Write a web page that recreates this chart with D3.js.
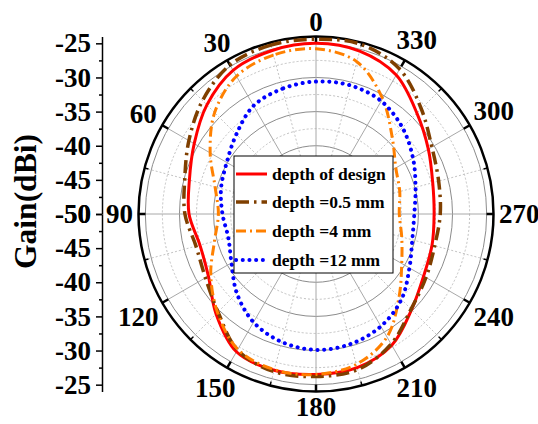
<!DOCTYPE html>
<html>
<head>
<meta charset="utf-8">
<script src="https://cdn.jsdelivr.net/npm/d3@7"></script>
<style>
  body { margin: 0; background: #fff; }
  text { font-family: "Liberation Serif", "Times New Roman", serif; font-weight: bold; fill: #000; }
</style>
</head>
<body>
<svg id="chart" width="538" height="424"></svg>
<script>
// Azimuth angles (degrees, counter-clockwise from top)
const angles = [0, 15, 30, 45, 60, 75, 90, 105, 120, 135, 150, 165,
                180, 195, 210, 225, 240, 255, 270, 285, 300, 315, 330, 345];

// Gain (dBi) for each depth
const gainDesign = [-25.0, -25.2, -25.7, -27.4, -29.4, -30.8, -31.4, -32.4, -31.8, -29.3, -26.7, -26.3,
                    -26.5, -26.7, -27.8, -30.2, -31.8, -32.4, -32.7, -32.3, -31.0, -29.1, -26.5, -25.3];
const gain05 = [-24.4, -24.4, -24.8, -26.5, -28.5, -30.1, -30.8, -31.8, -31.3, -29.7, -27.0, -26.1,
                -26.2, -26.4, -28.0, -30.3, -31.4, -32.0, -31.8, -31.4, -30.4, -28.2, -25.5, -24.3];
const gain4 = [-25.8, -25.9, -26.7, -29.0, -32.1, -34.7, -35.7, -34.6, -32.2, -29.6, -27.1, -26.4,
               -26.5, -27.2, -29.2, -32.8, -35.5, -37.0, -37.8, -37.3, -36.5, -34.2, -30.5, -26.9];
const gain12 = [-30.6, -31.0, -31.7, -33.5, -34.9, -35.6, -36.3, -36.7, -35.7, -33.6, -31.7, -30.6,
                -30.1, -30.3, -31.0, -32.3, -34.2, -35.4, -35.6, -34.9, -33.6, -32.1, -30.9, -30.5];

const seriesNames = ["depth of design", "depth =0.5 mm", "depth =4 mm", "depth =12 mm"];
const angleLabels = [0, 30, 60, 90, 120, 150, 180, 210, 240, 270, 300, 330];
const gainTicks = [-25, -30, -35, -40, -45, -50];
const gainMinorTicks = [-27.5, -32.5, -37.5, -42.5, -47.5];
const gainMin = -50, gainMax = -24;

const series = [
  { name: seriesNames[0], values: gainDesign, color: "#ff0000", width: 3,   dash: null,          cap: "butt" },
  { name: seriesNames[1], values: gain05,     color: "#7f3f00", width: 3.5, dash: "13,5,2.5,5",  cap: "butt" },
  { name: seriesNames[2], values: gain4,      color: "#ff8000", width: 3,   dash: "10,4,2,4",    cap: "butt" },
  { name: seriesNames[3], values: gain12,     color: "#0000ff", width: 4,   dash: "0.1,6.6",     cap: "round" }
];

const svg = d3.select("#chart");
const cx = 316, cy = 214, R = 177.5;
const rScale = d3.scaleLinear().domain([gainMin, gainMax]).range([0, R]);
const rad = a => a * Math.PI / 180;

const plot = svg.append("g").attr("transform", `translate(${cx},${cy})`);

// Concentric grid rings
const rings = d3.range(gainMin + 2.5, -24.9, 2.5);
plot.selectAll("circle.ring").data(rings).join("circle")
  .attr("class", "ring")
  .attr("r", d => rScale(d))
  .attr("fill", "none")
  .attr("stroke", d => (d % 5 === 0) ? "#8c8c8c" : "#c0c0c0")
  .attr("stroke-width", 1)
  .attr("stroke-dasharray", d => (d % 5 === 0) ? null : "2,2");

// Radial spokes
plot.selectAll("line.spoke").data(d3.range(0, 360, 15)).join("line")
  .attr("class", "spoke")
  .attr("x1", 0).attr("y1", 0)
  .attr("x2", a => -R * Math.sin(rad(a)))
  .attr("y2", a => -R * Math.cos(rad(a)))
  .attr("stroke", a => (a % 30 === 0) ? "#a8a8a8" : "#c4c4c4")
  .attr("stroke-width", 1)
  .attr("stroke-dasharray", a => (a % 30 === 0) ? null : "2,2");

// Outer axis circle with angular ticks
plot.append("circle").attr("r", R).attr("fill", "none")
  .attr("stroke", "#000").attr("stroke-width", 2.5);
plot.selectAll("line.atick").data(d3.range(0, 360, 15)).join("line")
  .attr("class", "atick")
  .attr("x1", a => -R * Math.sin(rad(a)))
  .attr("y1", a => -R * Math.cos(rad(a)))
  .attr("x2", a => -(R - ((a % 30 === 0) ? 7 : 4)) * Math.sin(rad(a)))
  .attr("y2", a => -(R - ((a % 30 === 0) ? 7 : 4)) * Math.cos(rad(a)))
  .attr("stroke", "#000")
  .attr("stroke-width", a => (a % 30 === 0) ? 2.5 : 1.5);

// Angle labels: each label box sits just outside the axis circle
const labelGap = 183, digitHeight = 19;
plot.selectAll("text.alabel").data(angleLabels).join("text")
  .attr("class", "alabel")
  .attr("text-anchor", "middle")
  .attr("dominant-baseline", "central")
  .style("font-size", "27px")
  .text(a => a)
  .each(function (a) {
    const w = this.getComputedTextLength();
    const ux = -Math.sin(rad(a)), uy = -Math.cos(rad(a));
    const d = labelGap + Math.abs(ux) * w / 2 + Math.abs(uy) * digitHeight / 2;
    d3.select(this).attr("x", ux * d).attr("y", uy * d);
  });

// Pattern traces
const radial = d3.lineRadial()
  .angle(d => -rad(d.a))
  .radius(d => rScale(d.v))
  .curve(d3.curveCatmullRomClosed.alpha(0.5));

series.forEach(s => {
  const pts = angles.map((a, i) => ({ a, v: s.values[i] }));
  plot.append("path")
    .datum(pts)
    .attr("d", radial)
    .attr("fill", "none")
    .attr("stroke", s.color)
    .attr("stroke-width", s.width)
    .attr("stroke-dasharray", s.dash)
    .attr("stroke-linecap", s.cap);
});

// Left gain axis (mirrored about the centre)
const axisX = 102;
const yTop = d3.scaleLinear().domain([gainMin, gainMax]).range([cy, cy - R]);
const yBot = d3.scaleLinear().domain([gainMin, gainMax]).range([cy, cy + R]);
[yTop, yBot].forEach(sc => {
  const gMajor = svg.append("g").attr("transform", `translate(${axisX},0)`)
    .call(d3.axisLeft(sc).tickValues(gainTicks).tickSize(6).tickSizeOuter(0).tickPadding(5)
      .tickFormat(d => String(d)));
  gMajor.select(".domain").attr("stroke-width", 1.5);
  gMajor.selectAll(".tick line").attr("stroke-width", 1.5);
  gMajor.selectAll(".tick text")
    .style("font-family", '"Liberation Serif", "Times New Roman", serif')
    .style("font-weight", "bold").style("font-size", "27px");
  const gMinor = svg.append("g").attr("transform", `translate(${axisX},0)`)
    .call(d3.axisLeft(sc).tickValues(gainMinorTicks).tickSize(3).tickSizeOuter(0).tickFormat(""));
  gMinor.select(".domain").remove();
  gMinor.selectAll(".tick line").attr("stroke-width", 1.5);
});

svg.append("text")
  .attr("transform", `translate(25,201.5) rotate(-90)`)
  .attr("text-anchor", "middle")
  .attr("dominant-baseline", "central")
  .style("font-size", "31.5px")
  .text("Gain(dBi)");

// Legend
const legend = svg.append("g").attr("transform", "translate(234,156)");
legend.append("rect").attr("width", 159).attr("height", 117)
  .attr("fill", "#fff").attr("stroke", "#000").attr("stroke-width", 1);
const rowY = [18, 46, 75, 104];
series.forEach((s, i) => {
  legend.append("line")
    .attr("x1", 2).attr("x2", 33).attr("y1", rowY[i]).attr("y2", rowY[i])
    .attr("stroke", s.color).attr("stroke-width", s.width)
    .attr("stroke-dasharray", s.dash).attr("stroke-linecap", s.cap);
  legend.append("text")
    .attr("x", 38).attr("y", rowY[i])
    .attr("dominant-baseline", "central")
    .style("font-size", "17.5px")
    .text(s.name);
});
</script>
</body>
</html>
